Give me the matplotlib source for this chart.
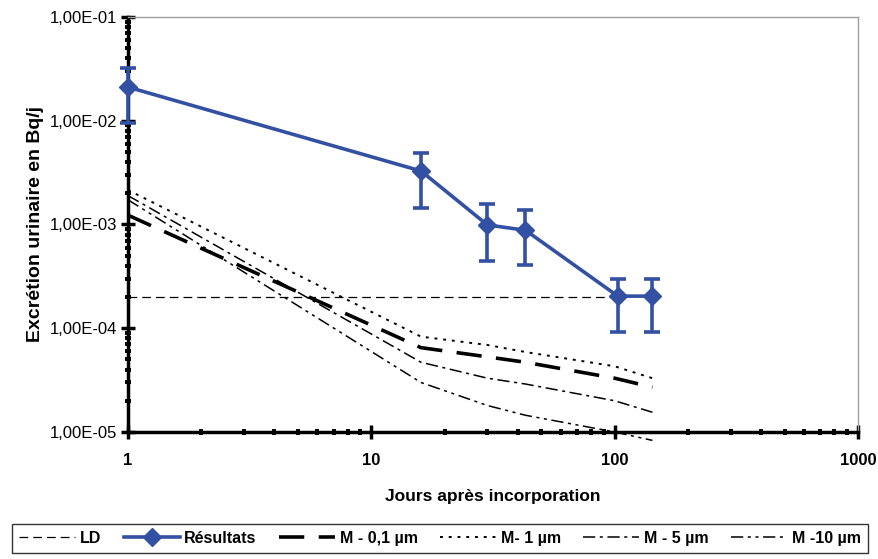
import numpy as np
import matplotlib.pyplot as plt
from matplotlib.lines import Line2D
from matplotlib.ticker import LogLocator, FuncFormatter, NullFormatter

plt.rcParams['font.family'] = ['Liberation Sans', 'DejaVu Sans']

# ===== data =====
jours = [1, 16, 30, 43, 103, 143]
resultats = [0.0211, 0.00328, 0.00099, 0.00088, 0.000204, 0.000204]
err_haut = [0.032, 0.0049, 0.00158, 0.00138, 0.0003, 0.0003]
err_bas = [0.0095, 0.00145, 0.00044, 0.00041, 0.000091, 0.000091]

ld_jours = [1, 100]
ld_valeur = [2.0e-4, 2.0e-4]

mod_jours = [1, 16, 30, 43, 100, 143]
m_01 = [0.00123, 6.5e-5, 5.3e-5, 4.7e-5, 3.3e-5, 2.7e-5]
m_1 = [0.00215, 8.3e-5, 6.9e-5, 5.9e-5, 4.3e-5, 3.3e-5]
m_5 = [0.0019, 4.7e-5, 3.3e-5, 2.9e-5, 2.0e-5, 1.55e-5]
m_10 = [0.00173, 3.0e-5, 1.8e-5, 1.45e-5, 1.0e-5, 8.3e-6]

bleu = '#3351a3'

fig = plt.figure(figsize=(8.79, 5.59), dpi=100)
ax = fig.add_axes([0.1456, 0.2272, 0.8305, 0.7424])

l_ld, = ax.plot(ld_jours, ld_valeur, color='black', lw=0.9, dashes=(7, 4))

yerr = [np.array(resultats) - np.array(err_bas), np.array(err_haut) - np.array(resultats)]
eb = ax.errorbar(jours, resultats, yerr=yerr, color=bleu, lw=2.6, marker='D', ms=9,
                 elinewidth=2.6, capsize=5.5, capthick=2.6, zorder=5)
for art in eb.lines[1] + eb.lines[2]:
    art.set_clip_on(False)
eb.lines[0].set_clip_on(False)
h_res = Line2D([], [], color=bleu, lw=2.6, marker='D', ms=9)

l01, = ax.plot(mod_jours, m_01, color='black', lw=2.6, dashes=(7, 4), clip_on=False)
l1, = ax.plot(mod_jours, m_1, color='black', lw=1.4, dashes=(1.5, 3), clip_on=False)
l5, = ax.plot(mod_jours, m_5, color='black', lw=1.1, dashes=(8, 3, 2, 3), clip_on=False)
l10, = ax.plot(mod_jours, m_10, color='black', lw=1.1, dashes=(8, 3, 2, 3, 2, 3), clip_on=False)

ax.set_xscale('log')
ax.set_yscale('log')
ax.set_xlim(1, 1000)
ax.set_ylim(1e-5, 1e-1)

ax.yaxis.set_major_locator(LogLocator(base=10, numticks=10))
ax.yaxis.set_minor_locator(LogLocator(base=10, subs=np.arange(2, 10), numticks=20))
ax.yaxis.set_major_formatter(FuncFormatter(lambda v, p: ('%.2E' % v).replace('.', ',')))
ax.yaxis.set_minor_formatter(NullFormatter())
ax.xaxis.set_major_formatter(FuncFormatter(lambda v, p: '%d' % v))
ax.xaxis.set_minor_formatter(NullFormatter())

for s in ['left', 'bottom']:
    ax.spines[s].set_linewidth(2.5)
    ax.spines[s].set_color('black')
for s in ['top', 'right']:
    ax.spines[s].set_linewidth(1)
    ax.spines[s].set_color('#a0a0a0')

ax.tick_params(which='major', direction='inout', length=10, width=2.5, top=False, right=False)
ax.tick_params(which='minor', direction='inout', length=5, width=2.8, top=False, right=False)
ax.tick_params(axis='y', labelsize=12, colors='black', pad=3)
ax.tick_params(axis='x', labelsize=12, pad=10)
for t in ax.get_xticklabels():
    t.set_fontweight('bold')

ax.set_xlabel('Jours après incorporation', fontsize=12.5, fontweight='bold', labelpad=15)
ax.set_ylabel('Excrétion urinaire en Bq/j', fontsize=14, fontweight='bold', labelpad=4)

leg = fig.legend([l_ld, h_res, l01, l1, l5, l10],
                 ['LD', 'Résultats', 'M - 0,1 µm', 'M- 1 µm', 'M - 5 µm', 'M -10 µm'],
                 loc='lower left', bbox_to_anchor=(12 / 879, 6 / 559, 856 / 879, 35 / 559),
                 mode='expand', ncol=6, frameon=True, fancybox=False, edgecolor='black',
                 handlelength=3.5, handletextpad=0.3, columnspacing=1.0, borderpad=0.45,
                 borderaxespad=0, prop={'weight': 'bold', 'size': 11.5})
leg.get_frame().set_linewidth(1.0)

fig.savefig('out.png', dpi=100)
